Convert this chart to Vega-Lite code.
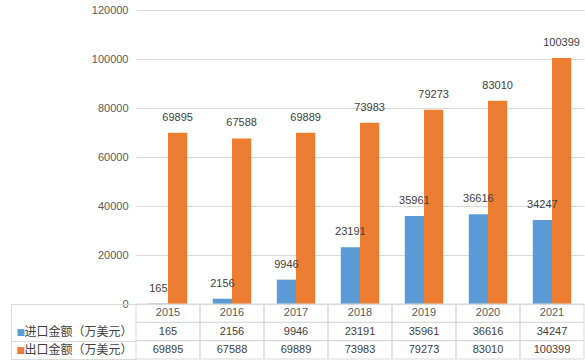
{
  "$schema": "https://vega.github.io/schema/vega-lite/v6.json",
  "padding": {"left": 10, "top": 4, "right": 2, "bottom": 5},
  "autosize": {"type": "pad"},
  "background": "white",
  "data": {"values": [
    {"year": "2015", "import": 165, "export": 69895},
    {"year": "2016", "import": 2156, "export": 67588},
    {"year": "2017", "import": 9946, "export": 69889},
    {"year": "2018", "import": 23191, "export": 73983},
    {"year": "2019", "import": 35961, "export": 79273},
    {"year": "2020", "import": 36616, "export": 83010},
    {"year": "2021", "import": 34247, "export": 100399}
  ]},
  "spacing": 0,
  "bounds": "flush",
  "resolve": {"scale": {"x": "independent", "y": "independent", "color": "independent"}},
  "vconcat": [
    {
      "width": 448,
      "height": 294,
      "transform": [{"fold": ["import", "export"], "as": ["series", "value"]}],
      "encoding": {
        "x": {"field": "year", "type": "nominal", "scale": {"paddingInner": 0.4, "paddingOuter": 0.2}, "axis": null},
        "xOffset": {"field": "series", "type": "nominal", "sort": ["import", "export"], "scale": {"paddingInner": 0, "paddingOuter": 0}},
        "y": {"field": "value", "type": "quantitative", "scale": {"domain": [0, 120000], "nice": false},
          "axis": {"values": [0, 20000, 40000, 60000, 80000, 100000, 120000], "format": "d", "title": null, "domain": false, "ticks": false, "tickSize": 0, "labelPadding": 8, "labelColor": "#595959", "labelFontSize": 11, "labelFont": "Liberation Sans", "gridColor": "#d9d9d9", "labelFlush": false}}
      },
      "layer": [
        {"mark": {"type": "bar"},
         "encoding": {"color": {"field": "series", "type": "nominal", "scale": {"domain": ["import", "export"], "range": ["#5b9bd5", "#ed7d31"]}, "legend": null}}},
        {"mark": {"type": "text", "baseline": "middle", "dy": -15, "fontSize": 11, "font": "Liberation Sans", "color": "#404040"},
         "encoding": {"text": {"field": "value", "type": "quantitative", "format": "d"}}}
      ]
    },
    {
      "width": 448,
      "height": 55,
      "resolve": {"axis": {"y": "independent"}},
      "layer": [
        {
          "transform": [{"fold": ["import", "export"], "as": ["series", "value"]}],
          "mark": {"type": "rect", "fill": "transparent", "stroke": "#d9d9d9", "strokeWidth": 1},
          "encoding": {
            "x": {"field": "year", "type": "nominal", "scale": {"paddingInner": 0, "paddingOuter": 0}, "axis": null},
            "y": {"field": "series", "type": "nominal", "scale": {"domain": ["year", "import", "export"], "paddingInner": 0, "paddingOuter": 0},
              "axis": {"orient": "left", "title": null, "domain": false, "ticks": true, "tickBand": "extent", "tickSize": 125,
                "tickColor": {"condition": {"test": "datum.value === 'year'", "value": "transparent"}, "value": "#d9d9d9"},
                "labelExpr": "datum.value === 'import' ? '进口金额（万美元）' : datum.value === 'export' ? '出口金额（万美元）' : ''",
                "labelAlign": "left", "labelBaseline": "middle", "labelPadding": -13, "labelFont": "Noto Sans CJK SC", "labelFontSize": 12, "labelColor": "#404040", "labelBound": false, "grid": false}}
          }
        },
        {
          "mark": {"type": "rect", "fill": "transparent", "stroke": "#d9d9d9", "strokeWidth": 1},
          "encoding": {
            "x": {"field": "year", "type": "nominal", "axis": null},
            "y": {"datum": "year", "type": "nominal", "axis": null}
          }
        },
        {
          "transform": [{"fold": ["import", "export"], "as": ["series", "value"]}],
          "mark": {"type": "text", "fontSize": 11, "font": "Liberation Sans", "color": "#404040", "baseline": "middle"},
          "encoding": {
            "x": {"field": "year", "type": "nominal", "axis": null},
            "y": {"field": "series", "type": "nominal",
              "axis": {"orient": "left", "title": null, "offset": 125, "domain": true, "domainColor": "#d9d9d9", "ticks": false, "tickSize": 0,
                "labelExpr": "datum.value === 'year' ? '' : '■'",
                "labelColor": {"condition": {"test": "datum.value === 'import'", "value": "#5b9bd5"}, "value": "#ed7d31"},
                "labelAlign": "left", "labelBaseline": "middle", "labelPadding": -5, "labelFont": "DejaVu Sans", "labelFontSize": 9, "labelBound": false, "grid": false}},
            "text": {"field": "value", "type": "quantitative", "format": "d"}
          }
        },
        {
          "mark": {"type": "text", "fontSize": 11, "font": "Liberation Sans", "color": "#595959", "baseline": "middle"},
          "encoding": {
            "x": {"field": "year", "type": "nominal", "axis": null},
            "y": {"datum": "year", "type": "nominal", "axis": null},
            "text": {"field": "year", "type": "nominal"}
          }
        }
      ]
    }
  ],
  "config": {"view": {"stroke": null}, "font": "Liberation Sans"}
}
